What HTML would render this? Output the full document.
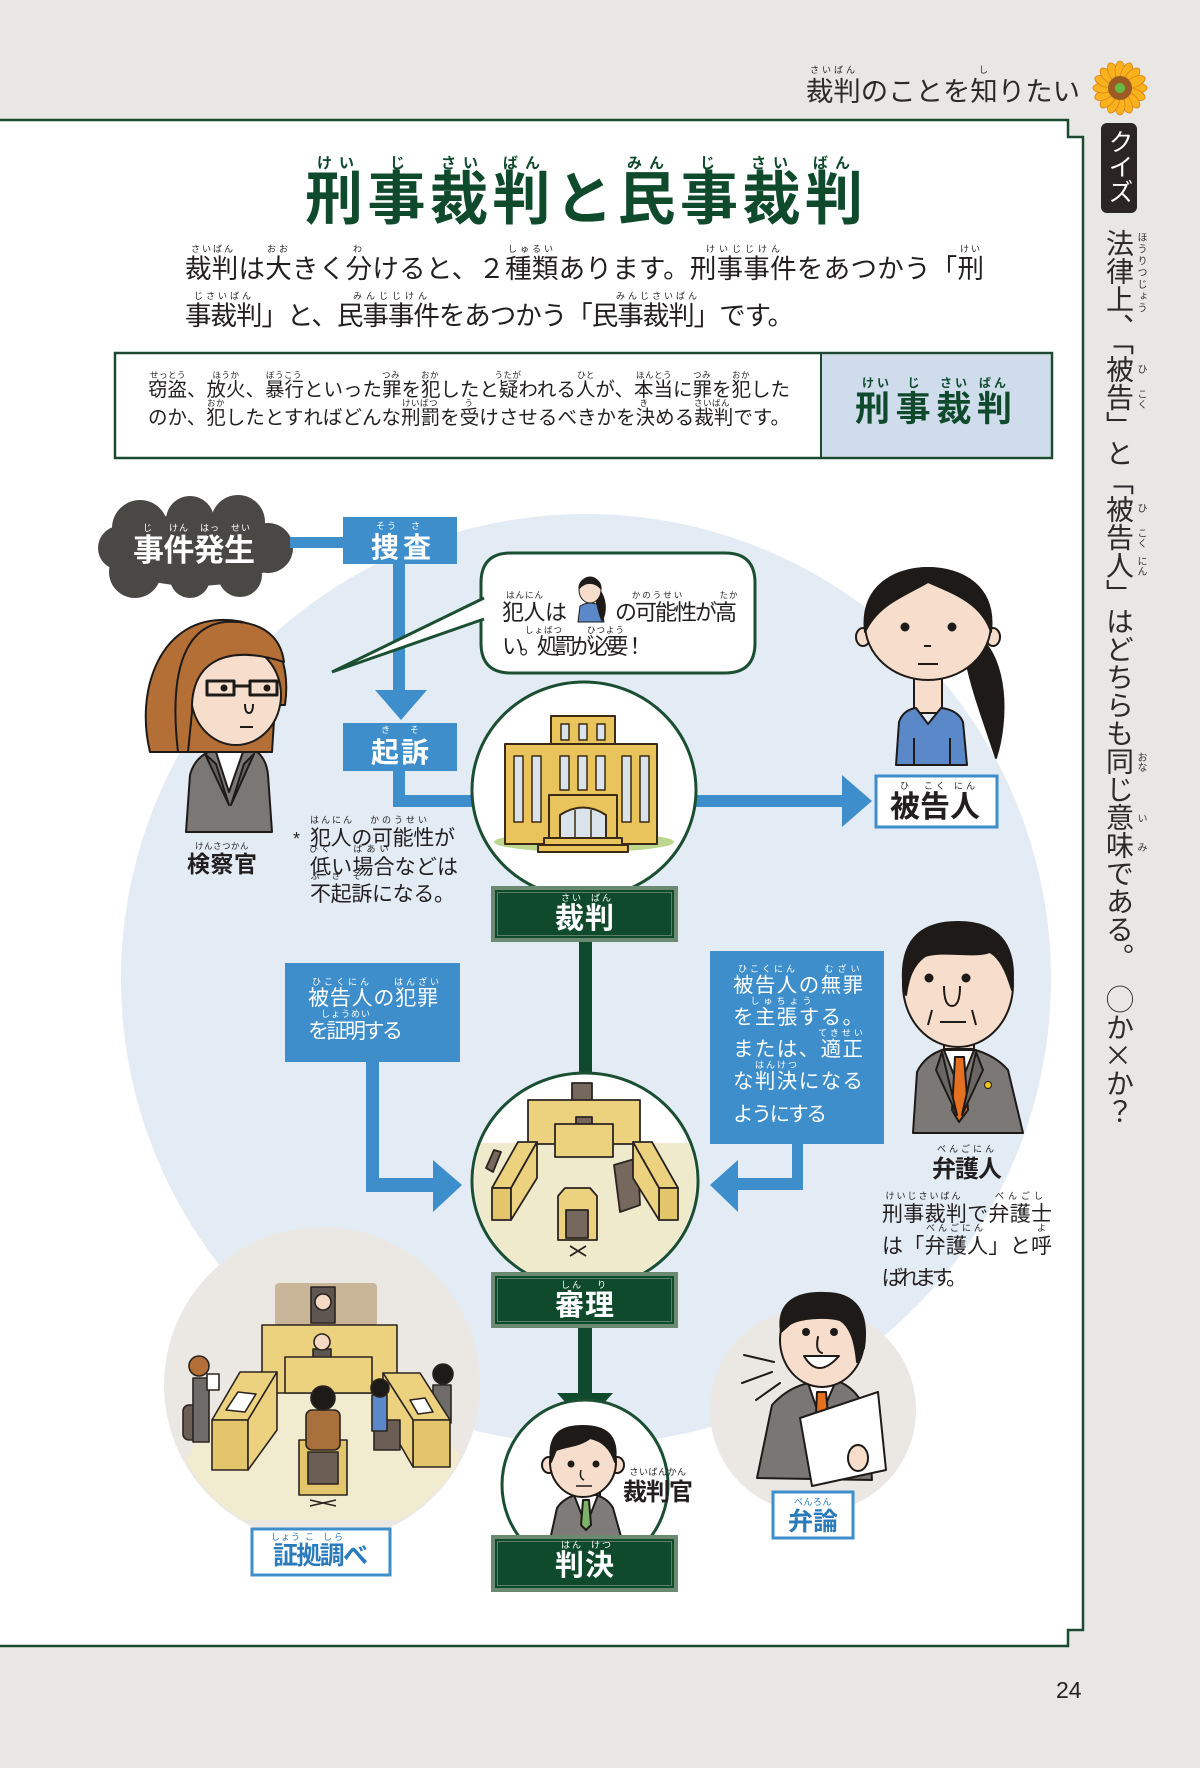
<!DOCTYPE html>
<html><head><meta charset="utf-8">
<style>
html,body{margin:0;padding:0;}
body{width:1200px;height:1768px;background:#e9e7e3;position:relative;overflow:hidden;font-family:"Liberation Sans","Noto Sans CJK JP",sans-serif;}
svg{position:absolute;left:0;top:0;}
.v{position:absolute;writing-mode:vertical-rl;white-space:nowrap;font-family:"Liberation Sans","Noto Sans CJK JP",sans-serif;}
.vr{position:absolute;writing-mode:vertical-rl;white-space:nowrap;font-size:10px;line-height:11px;color:#333;font-family:"Liberation Sans","Noto Sans CJK JP",sans-serif;}
</style></head><body>
<svg xmlns="http://www.w3.org/2000/svg" width="1200" height="1768" viewBox="0 0 1200 1768">
<style>
text{font-family:"Liberation Sans","Noto Sans CJK JP",sans-serif;fill:#231f20;}
.rb{font-size:9px;text-anchor:middle;letter-spacing:1px;}
.w{fill:#fff;}
.gr{fill:#0f4a2c;}
.bl{fill:#2a7bbb;}
.bd{font-weight:bold;}
</style>
<defs>
<clipPath id="c1"><ellipse cx="585" cy="1181" rx="111" ry="106"/></clipPath>
<clipPath id="c2"><ellipse cx="585" cy="1485" rx="81" ry="83"/></clipPath>
<clipPath id="c3"><circle cx="322" cy="1385" r="156"/></clipPath>
</defs>

<!-- header -->
<text x="806" y="101" font-size="27" textLength="274" lengthAdjust="spacingAndGlyphs" style="fill:#2a2a2a">裁判のことを知りたい</text>
<text class="rb" x="834" y="73" style="letter-spacing:3px">さいばん</text>
<text class="rb" x="984" y="73">し</text>
<g transform="translate(1120,88)" fill="#f7b21c" stroke="#e0801a" stroke-width="0.8">
<ellipse cx="17" cy="0" rx="10" ry="5" transform="rotate(0)"/>
<ellipse cx="17" cy="0" rx="10" ry="5" transform="rotate(22.5)"/>
<ellipse cx="17" cy="0" rx="10" ry="5" transform="rotate(45)"/>
<ellipse cx="17" cy="0" rx="10" ry="5" transform="rotate(67.5)"/>
<ellipse cx="17" cy="0" rx="10" ry="5" transform="rotate(90)"/>
<ellipse cx="17" cy="0" rx="10" ry="5" transform="rotate(112.5)"/>
<ellipse cx="17" cy="0" rx="10" ry="5" transform="rotate(135)"/>
<ellipse cx="17" cy="0" rx="10" ry="5" transform="rotate(157.5)"/>
<ellipse cx="17" cy="0" rx="10" ry="5" transform="rotate(180)"/>
<ellipse cx="17" cy="0" rx="10" ry="5" transform="rotate(202.5)"/>
<ellipse cx="17" cy="0" rx="10" ry="5" transform="rotate(225)"/>
<ellipse cx="17" cy="0" rx="10" ry="5" transform="rotate(247.5)"/>
<ellipse cx="17" cy="0" rx="10" ry="5" transform="rotate(270)"/>
<ellipse cx="17" cy="0" rx="10" ry="5" transform="rotate(292.5)"/>
<ellipse cx="17" cy="0" rx="10" ry="5" transform="rotate(315)"/>
<ellipse cx="17" cy="0" rx="10" ry="5" transform="rotate(337.5)"/>
<circle r="12" fill="#9c5b23" stroke="none"/>
<circle r="5" fill="#67bd45" stroke="none"/>
</g>

<!-- quiz tab -->
<rect x="1101" y="123" width="36" height="90" rx="6" fill="#2b2625"/>

<!-- panel -->
<path d="M-5,120 H1068 V137 H1083 V1630 H1068 V1646 H-5 Z" fill="#fff" stroke="#1b4a30" stroke-width="2.5"/>

<!-- title -->
<text x="305" y="219" font-size="58" class="bd gr" textLength="558" lengthAdjust="spacing">刑事裁判と民事裁判</text>
<g class="bd" style="font-size:15px;text-anchor:middle;letter-spacing:7px;">
<text class="gr" x="339" y="168">けい</text>
<text class="gr" x="401" y="168">じ</text>
<text class="gr" x="463" y="168">さい</text>
<text class="gr" x="525" y="168">ばん</text>
<text class="gr" x="649" y="168">みん</text>
<text class="gr" x="711" y="168">じ</text>
<text class="gr" x="773" y="168">さい</text>
<text class="gr" x="835" y="168">ばん</text>
</g>

<!-- paragraph -->
<text x="185" y="278" font-size="26.5" textLength="799" lengthAdjust="spacing">裁判は大きく分けると、２種類あります。刑事事件をあつかう「刑</text>
<text x="185" y="325" font-size="26.5" textLength="609" lengthAdjust="spacing">事裁判」と、民事事件をあつかう「民事裁判」です。</text>
<text class="rb" x="213" y="252" style="letter-spacing:2px">さいばん</text>
<text class="rb" x="279" y="252" style="letter-spacing:3px">おお</text>
<text class="rb" x="358" y="252">わ</text>
<text class="rb" x="532" y="252" style="letter-spacing:3px">しゅるい</text>
<text class="rb" x="745" y="252" style="letter-spacing:4px">けいじじけん</text>
<text class="rb" x="971" y="252" style="letter-spacing:2px">けい</text>
<text class="rb" x="224" y="299" style="letter-spacing:3px">じさいばん</text>
<text class="rb" x="392" y="299" style="letter-spacing:4px">みんじじけん</text>
<text class="rb" x="658" y="299" style="letter-spacing:3px">みんじさいばん</text>

<!-- definition box -->
<rect x="115" y="353" width="937" height="105" fill="#fff" stroke="#1b4a30" stroke-width="2.5"/>
<rect x="821" y="354.5" width="229.5" height="102" fill="#cfdcec"/>
<line x1="821" y1="353" x2="821" y2="458" stroke="#1b4a30" stroke-width="2"/>
<text x="148" y="396" font-size="19.5" textLength="642" lengthAdjust="spacing">窃盗、放火、暴行といった罪を犯したと疑われる人が、本当に罪を犯した</text>
<text x="148" y="424" font-size="19.5" textLength="642" lengthAdjust="spacing">のか、犯したとすればどんな刑罰を受けさせるべきかを決める裁判です。</text>
<g style="font-size:8.5px;text-anchor:middle;letter-spacing:0.5px">
<text x="168" y="378">せっとう</text><text x="226" y="378">ほうか</text><text x="284" y="378">ぼうこう</text>
<text x="391" y="378">つみ</text><text x="430" y="378">おか</text><text x="508" y="378">うたが</text>
<text x="586" y="378">ひと</text><text x="654" y="378">ほんとう</text><text x="702" y="378">つみ</text><text x="741" y="378">おか</text>
<text x="216" y="406">おか</text><text x="420" y="406">けいばつ</text><text x="469" y="406">う</text>
<text x="644" y="406">き</text><text x="712" y="406">さいばん</text>
</g>
<text x="855" y="421" font-size="35" class="bd gr" textLength="157" lengthAdjust="spacing">刑事裁判</text>
<g class="bd" style="font-size:12px;text-anchor:middle;letter-spacing:3px">
<text class="gr" x="877" y="387">けい</text><text class="gr" x="915" y="387">じ</text>
<text class="gr" x="955" y="387">さい</text><text class="gr" x="994" y="387">ばん</text>
</g>

<!-- big light blue circle -->
<circle cx="586" cy="979" r="465" fill="#e3ebf5"/>
<!-- grey circles -->
<circle cx="322" cy="1385" r="158" fill="#ebe8e4"/>
<circle cx="813" cy="1410" r="103" fill="#ebe8e4"/>

<!-- cloud -->
<g fill="#4a4845">
<ellipse cx="195" cy="550" rx="88" ry="36"/>
<circle cx="140" cy="528" r="28"/><circle cx="190" cy="520" r="24"/><circle cx="238" cy="522" r="27"/>
<circle cx="268" cy="548" r="25"/><circle cx="240" cy="575" r="22"/><circle cx="190" cy="578" r="20"/>
<circle cx="135" cy="572" r="26"/><circle cx="120" cy="548" r="22"/>
</g>
<text x="133" y="561" font-size="31" class="bd w" textLength="122" lengthAdjust="spacing">事件発生</text>
<text class="rb w" x="148" y="531">じ</text><text class="rb w" x="179" y="531">けん</text>
<text class="rb w" x="210" y="531">はっ</text><text class="rb w" x="241" y="531">せい</text>

<!-- blue connectors -->
<g fill="#3d8ecb">
<rect x="290" y="537" width="55" height="11"/>
<rect x="343" y="517" width="114" height="47"/>
<rect x="393" y="564" width="12" height="128"/>
<polygon points="375,690 427,690 401,720"/>
<rect x="343" y="723" width="114" height="48"/>
<rect x="393" y="771" width="12" height="36"/>
<rect x="393" y="795" width="110" height="12"/>
<rect x="690" y="795" width="155" height="12"/>
<polygon points="842,775 872,801 842,827"/>
<rect x="285" y="963" width="175" height="99"/>
<rect x="366" y="1062" width="13" height="130"/>
<rect x="366" y="1178" width="70" height="14"/>
<polygon points="433,1160 462,1185 433,1212"/>
<rect x="710" y="951" width="174" height="193"/>
<rect x="792" y="1144" width="11" height="46"/>
<rect x="735" y="1178" width="68" height="12"/>
<polygon points="738,1160 710,1185 738,1212"/>
</g>
<text x="371" y="557" font-size="28" class="bd w" textLength="60" lengthAdjust="spacing">捜査</text>
<text class="rb w" x="387" y="529" style="letter-spacing:2px">そう</text><text class="rb w" x="416" y="529">さ</text>
<text x="371" y="762" font-size="28" class="bd w" textLength="58" lengthAdjust="spacing">起訴</text>
<text class="rb w" x="386" y="733">き</text><text class="rb w" x="415" y="733">そ</text>

<!-- blue box texts -->
<text x="308" y="1005" font-size="21" class="w" textLength="130" lengthAdjust="spacing">被告人の犯罪</text>
<text x="308" y="1038" font-size="21" class="w" textLength="95" lengthAdjust="spacing">を証明する</text>
<text class="rb w" x="342" y="985" style="letter-spacing:3px">ひこくにん</text>
<text class="rb w" x="418" y="985" style="letter-spacing:3px">はんざい</text>
<text class="rb w" x="346" y="1017" style="letter-spacing:1px">しょうめい</text>

<text x="733" y="992" font-size="20.5" class="w" textLength="130" lengthAdjust="spacing">被告人の無罪</text>
<text x="733" y="1024" font-size="20.5" class="w" textLength="130" lengthAdjust="spacing">を主張する。</text>
<text x="733" y="1056" font-size="20.5" class="w" textLength="130" lengthAdjust="spacing">または、適正</text>
<text x="733" y="1088" font-size="20.5" class="w" textLength="130" lengthAdjust="spacing">な判決になる</text>
<text x="733" y="1121" font-size="20.5" class="w" textLength="94" lengthAdjust="spacing">ようにする</text>
<text class="rb w" x="768" y="972" style="letter-spacing:3px">ひこくにん</text>
<text class="rb w" x="844" y="972" style="letter-spacing:4px">むざい</text>
<text class="rb w" x="783" y="1004" style="letter-spacing:4px">しゅちょう</text>
<text class="rb w" x="842" y="1036" style="letter-spacing:3px">てきせい</text>
<text class="rb w" x="777" y="1068" style="letter-spacing:2px">はんけつ</text>

<!-- speech bubble -->
<path d="M511,553 H725 Q755,553 755,583 V643 Q755,673 725,673 H511 Q481,673 481,643 V583 Q481,553 511,553 Z" fill="#fff" stroke="#1b4f31" stroke-width="3"/>
<path d="M484,598 L332,672 L484,619" fill="#fff" stroke="#1b4f31" stroke-width="3"/>
<text x="502" y="620" font-size="22" textLength="65" lengthAdjust="spacing">犯人は</text>
<text x="615" y="620" font-size="22" textLength="122" lengthAdjust="spacing">の可能性が高</text>
<text x="502" y="654" font-size="22" textLength="144" lengthAdjust="spacing">い。処罰が必要！</text>
<text class="rb" x="525" y="598" style="font-size:8.5px">はんにん</text>
<text class="rb" x="658" y="598" style="font-size:8.5px;letter-spacing:2px">かのうせい</text>
<text class="rb" x="729" y="598" style="font-size:8.5px">たか</text>
<text class="rb" x="544" y="633" style="font-size:8.5px">しょばつ</text>
<text class="rb" x="606" y="633" style="font-size:8.5px">ひつよう</text>
<g stroke="#1e1a18" stroke-width="1">
<path d="M578,622 L580,606 Q590,600 601,606 L604,622 Z" fill="#5b88c8"/>
<path d="M598,588 C607,598 607,612 602,621 C598,612 596,600 595,594 Z" fill="#1e1a18"/>
<ellipse cx="590" cy="590" rx="11" ry="13" fill="#f7ddcc"/>
<path d="M579,589 C578,574 602,574 601,589 C595,582 585,581 579,589 Z" fill="#1e1a18"/>
</g>

<!-- prosecutor -->
<g stroke="#1e1a18" stroke-width="2" stroke-linejoin="round">
<path d="M186,832 L190,775 Q196,752 222,748 L250,748 Q266,754 268,775 L272,832 Z" fill="#7b7775"/>
<rect x="220" y="733" width="20" height="18" fill="#f7ddcc"/>
<path d="M215,749 L229,792 L244,749 Z" fill="#fff"/>
<path d="M205,754 L229,805 L216,764 Z" fill="#66625f"/>
<path d="M254,754 L231,805 L244,764 Z" fill="#66625f"/>
<path d="M150,752 C135,690 160,622 220,620 C270,618 292,655 285,705 L275,705 L272,752 Z" fill="#b46f37"/>
<ellipse cx="236" cy="695" rx="45" ry="50" fill="#f7ddcc"/>
<path d="M192,712 C190,660 228,644 284,662 C280,632 256,620 225,622 C188,626 168,665 178,752 L188,752 Z" fill="#b46f37"/>
<rect x="207" y="681" width="27" height="14" fill="none" stroke-width="3"/>
<rect x="250" y="681" width="27" height="14" fill="none" stroke-width="3"/>
<line x1="234" y1="686" x2="250" y2="686" stroke-width="3"/>
<circle cx="224" cy="688" r="2.5" fill="#1e1a18"/><circle cx="267" cy="688" r="2.5" fill="#1e1a18"/>
<path d="M245,704 q0,9 4,9 q4,0 4,-9" fill="none"/>
<line x1="240" y1="727" x2="253" y2="727"/>
</g>
<text x="187" y="872" font-size="23" class="bd" textLength="70" lengthAdjust="spacing">検察官</text>
<text class="rb" x="222" y="849" style="font-size:8.5px;letter-spacing:0.5px">けんさつかん</text>
<text x="293" y="845" font-size="18">*</text>
<text x="310" y="845" font-size="21" textLength="145" lengthAdjust="spacing">犯人の可能性が</text>
<text x="310" y="874" font-size="21" textLength="148" lengthAdjust="spacing">低い場合などは</text>
<text x="310" y="901" font-size="21" textLength="145" lengthAdjust="spacing">不起訴になる。</text>
<text class="rb" x="332" y="823" style="letter-spacing:2px">はんにん</text>
<text class="rb" x="400" y="823" style="letter-spacing:3px">かのうせい</text>
<text class="rb" x="321" y="852" style="letter-spacing:3px">ひく</text>
<text class="rb" x="373" y="852" style="letter-spacing:4px">ばあい</text>
<text class="rb" x="342" y="879" style="letter-spacing:12px">ふきそ</text>

<!-- building circle -->
<ellipse cx="584" cy="790" rx="112" ry="108" fill="#fff" stroke="#1b4f31" stroke-width="3"/>
<ellipse cx="584" cy="842" rx="90" ry="10" fill="#bcd68e"/>
<g stroke="#3b2a14" stroke-width="2" stroke-linejoin="round">
<rect x="551" y="716" width="64" height="30" fill="#e9c35b"/>
<rect x="505" y="744" width="152" height="100" fill="#e9c35b"/>
<g fill="#dbe3ea" stroke-width="1.5">
<rect x="561" y="724" width="8" height="16"/><rect x="579" y="724" width="8" height="16"/><rect x="597" y="724" width="8" height="16"/>
<rect x="514" y="756" width="9" height="66"/><rect x="532" y="756" width="9" height="66"/>
<rect x="560" y="756" width="9" height="34"/><rect x="578" y="756" width="9" height="34"/><rect x="596" y="756" width="9" height="34"/>
<rect x="622" y="756" width="9" height="66"/><rect x="640" y="756" width="9" height="66"/>
</g>
<rect x="549" y="795" width="68" height="48" fill="#e9c35b"/>
<path d="M560,843 V815 Q583,800 606,815 V843 Z" fill="#dbe3ea"/>
<line x1="575" y1="810" x2="575" y2="843" stroke-width="1.5"/><line x1="591" y1="810" x2="591" y2="843" stroke-width="1.5"/>
<rect x="544" y="838" width="78" height="7" fill="#e9c35b"/>
<rect x="538" y="845" width="90" height="7" fill="#e9c35b"/>
</g>

<!-- defendant woman -->
<g stroke="#1e1a18" stroke-width="2" stroke-linejoin="round">
<rect x="914" y="675" width="28" height="38" fill="#f7ddcc"/>
<path d="M896,765 L899,722 Q903,710 916,708 L928,724 L941,708 Q958,710 963,722 L967,765 Z" fill="#5b88c8"/>
<line x1="914" y1="738" x2="914" y2="765"/><line x1="950" y1="738" x2="950" y2="765"/>
<path d="M978,636 C1008,660 1008,720 996,758 C984,722 972,690 966,660 Z" fill="#1e1a18"/>
<ellipse cx="863" cy="637" rx="7" ry="9" fill="#f7ddcc"/>
<ellipse cx="993" cy="637" rx="7" ry="9" fill="#f7ddcc"/>
<ellipse cx="928" cy="624" rx="63" ry="56" fill="#f7ddcc"/>
<path d="M865,632 C860,586 895,568 928,568 C962,568 996,586 991,632 C982,604 956,594 928,582 C904,596 878,604 865,632 Z" fill="#1e1a18"/>
<circle cx="905" cy="627" r="3.5" fill="#1e1a18"/><circle cx="952" cy="627" r="3.5" fill="#1e1a18"/>
<line x1="924" y1="646" x2="931" y2="646"/>
<line x1="918" y1="664" x2="938" y2="664"/>
</g>
<rect x="876" y="776" width="121" height="51" fill="#fff" stroke="#3d8ecb" stroke-width="3"/>
<text x="890" y="817" font-size="30" class="bd" textLength="90" lengthAdjust="spacing">被告人</text>
<text class="rb" x="905" y="789">ひ</text><text class="rb" x="936" y="789" style="letter-spacing:3px">こく</text><text class="rb" x="966" y="789" style="letter-spacing:3px">にん</text>

<!-- green connectors -->
<g fill="#0f4a2c">
<rect x="579" y="942" width="13" height="133"/>
<rect x="578" y="1328" width="14" height="70"/>
<polygon points="557,1393 613,1393 585,1424"/>
</g>

<!-- courtroom circle -->
<ellipse cx="585" cy="1181" rx="113" ry="108" fill="#fff" stroke="#1b4f31" stroke-width="3"/>
<g clip-path="url(#c1)" stroke="#2a2420" stroke-width="1.8" stroke-linejoin="round">
<rect x="470" y="1143" width="232" height="150" fill="#f0eacd" stroke="none"/>
<rect x="572" y="1083" width="20" height="18" fill="#76685c"/>
<rect x="528" y="1100" width="112" height="44" fill="#ecd27e"/>
<rect x="576" y="1117" width="16" height="7" fill="#76685c"/>
<rect x="555" y="1124" width="58" height="33" fill="#ecd27e"/>
<polygon points="486,1168 494,1150 501,1152 493,1172" fill="#76685c"/>
<polygon points="492,1188 518,1142 537,1142 511,1188" fill="#ecd27e"/>
<polygon points="492,1188 511,1188 511,1220 492,1220" fill="#e3c66c"/>
<polygon points="511,1188 537,1142 537,1178 511,1220" fill="#ecd27e"/>
<polygon points="614,1165 638,1158 640,1205 620,1212" fill="#76685c"/>
<polygon points="678,1188 652,1142 633,1142 659,1188" fill="#ecd27e"/>
<polygon points="678,1188 659,1188 659,1220 678,1220" fill="#e3c66c"/>
<polygon points="659,1188 633,1142 633,1178 659,1220" fill="#ecd27e"/>
<polygon points="558,1196 565,1188 590,1188 597,1196 597,1240 558,1240" fill="#ecd27e"/>
<rect x="566" y="1210" width="22" height="28" fill="#76685c"/>
<path d="M570,1246 L586,1256 M586,1246 L570,1256" fill="none"/>
</g>

<!-- judge circle -->
<ellipse cx="585" cy="1485" rx="83" ry="85" fill="#fff" stroke="#1b4f31" stroke-width="3"/>
<g clip-path="url(#c2)" stroke="#1e1a18" stroke-width="2" stroke-linejoin="round">
<rect x="572" y="1484" width="28" height="14" fill="#f7ddcc"/>
<path d="M550,1540 L557,1508 Q564,1497 580,1494 L592,1494 Q607,1497 613,1508 L622,1540 Z" fill="#7f7b78"/>
<path d="M574,1495 L586,1526 L598,1495 Z" fill="#fff"/>
<path d="M583,1500 L589,1500 L591,1525 L586,1530 L581,1525 Z" fill="#7cb36a"/>
<ellipse cx="549" cy="1465" rx="7" ry="8" fill="#f7ddcc"/>
<ellipse cx="617" cy="1465" rx="7" ry="8" fill="#f7ddcc"/>
<ellipse cx="583" cy="1462" rx="33" ry="35" fill="#f7ddcc"/>
<path d="M551,1462 C547,1430 566,1426 583,1426 C604,1426 619,1434 615,1462 C610,1446 600,1440 590,1438 C580,1446 566,1446 556,1450 Z" fill="#1e1a18"/>
<circle cx="571" cy="1464" r="2.5" fill="#1e1a18"/><circle cx="596" cy="1464" r="2.5" fill="#1e1a18"/>
<path d="M581,1470 q-2,8 3,10" fill="none" stroke-width="1.5"/>
<line x1="576" y1="1486" x2="592" y2="1486" stroke-width="1.5"/>
</g>
<text x="623" y="1500" font-size="24" class="bd" textLength="70" lengthAdjust="spacing">裁判官</text>
<text class="rb" x="658" y="1475" style="letter-spacing:0.5px">さいばんかん</text>

<!-- labels -->
<g>
<rect x="491" y="886" width="187" height="56" fill="#6b8a72"/>
<rect x="495" y="890" width="179" height="48" fill="#0f4a2c"/>
<rect x="497.5" y="892.5" width="174" height="43" fill="none" stroke="#5f7f68" stroke-width="1"/>
<rect x="491" y="1272" width="187" height="56" fill="#6b8a72"/>
<rect x="495" y="1276" width="179" height="48" fill="#0f4a2c"/>
<rect x="497.5" y="1278.5" width="174" height="43" fill="none" stroke="#5f7f68" stroke-width="1"/>
<rect x="491" y="1535" width="187" height="57" fill="#6b8a72"/>
<rect x="495" y="1539" width="179" height="49" fill="#0f4a2c"/>
<rect x="497.5" y="1541.5" width="174" height="44" fill="none" stroke="#5f7f68" stroke-width="1"/>
</g>
<text x="555" y="928" font-size="29" class="bd w" textLength="59" lengthAdjust="spacing">裁判</text>
<text class="rb w" x="572" y="901" style="letter-spacing:2px">さい</text><text class="rb w" x="602" y="901" style="letter-spacing:2px">ばん</text>
<text x="555" y="1315" font-size="29" class="bd w" textLength="59" lengthAdjust="spacing">審理</text>
<text class="rb w" x="572" y="1288" style="letter-spacing:2px">しん</text><text class="rb w" x="602" y="1288">り</text>
<text x="555" y="1575" font-size="29" class="bd w" textLength="59" lengthAdjust="spacing">判決</text>
<text class="rb w" x="572" y="1548" style="letter-spacing:2px">はん</text><text class="rb w" x="602" y="1548" style="letter-spacing:2px">けつ</text>

<!-- lawyer -->
<g stroke="#1e1a18" stroke-width="2" stroke-linejoin="round">
<rect x="944" y="1032" width="30" height="22" fill="#f7ddcc"/>
<path d="M913,1133 L917,1072 Q925,1055 945,1049 L972,1049 Q995,1055 1008,1070 L1023,1133 Z" fill="#7c7875"/>
<path d="M944,1050 L959,1088 L974,1050 Z" fill="#fff"/>
<path d="M955,1057 L964,1057 L968,1110 L959,1122 L952,1110 Z" fill="#e5701f"/>
<path d="M942,1052 L957,1115 L936,1070 Z" fill="#6a6663"/>
<path d="M976,1052 L962,1115 L983,1070 Z" fill="#6a6663"/>
<circle cx="988" cy="1085" r="3.5" fill="#f0c419" stroke-width="1"/>
<ellipse cx="958" cy="985" rx="55" ry="62" fill="#f7ddcc"/>
<path d="M904,992 C896,932 930,922 958,922 C996,922 1018,942 1012,990 C1006,970 1000,958 990,952 C975,958 945,950 925,956 C912,965 908,980 906,995 Z" fill="#1e1a18"/>
<circle cx="929" cy="978" r="3.5" fill="#1e1a18"/><circle cx="966" cy="978" r="3.5" fill="#1e1a18"/>
<path d="M944,986 q0,20 8,20 q8,0 8,-20" fill="none"/>
<line x1="940" y1="1022" x2="966" y2="1022"/>
<line x1="932" y1="1010" x2="928" y2="1025"/><line x1="972" y1="1010" x2="976" y2="1025"/>
</g>
<text x="932" y="1177" font-size="24" class="bd" textLength="70" lengthAdjust="spacing">弁護人</text>
<text class="rb" x="967" y="1152" style="letter-spacing:3px">べんごにん</text>
<text x="882" y="1221" font-size="21" textLength="170" lengthAdjust="spacing">刑事裁判で弁護士</text>
<text x="882" y="1253" font-size="21" textLength="170" lengthAdjust="spacing">は「弁護人」と呼</text>
<text x="882" y="1285" font-size="21" textLength="85" lengthAdjust="spacing">ばれます。</text>
<text class="rb" x="924" y="1199" style="letter-spacing:2px">けいじさいばん</text>
<text class="rb" x="1021" y="1199" style="letter-spacing:4px">べんごし</text>
<text class="rb" x="956" y="1231" style="letter-spacing:3px">べんごにん</text>
<text class="rb" x="1042" y="1231">よ</text>

<!-- evidence scene -->
<g clip-path="url(#c3)" stroke="#2a2420" stroke-width="1.6" stroke-linejoin="round">
<path d="M180,1470 L230,1390 L415,1390 L470,1470 L420,1520 L230,1520 Z" fill="#f1ebd0" stroke="none"/>
<rect x="275" y="1283" width="102" height="44" rx="4" fill="#c9b699" stroke="none"/>
<rect x="311" y="1287" width="24" height="36" fill="#5e5650"/>
<circle cx="323" cy="1302" r="8" fill="#f4d9c4"/>
<rect x="262" y="1325" width="135" height="68" fill="#ecd27e"/>
<rect x="313" y="1349" width="18" height="9" fill="#5e5650"/>
<circle cx="322" cy="1342" r="8" fill="#f4d9c4"/>
<rect x="285" y="1357" width="87" height="36" fill="#ecd27e"/>
<rect x="183" y="1405" width="22" height="35" rx="6" fill="#6b5f55"/>
<rect x="193" y="1378" width="16" height="64" fill="#6f6b69"/>
<circle cx="199" cy="1366" r="10" fill="#b46f37"/>
<rect x="207" y="1374" width="12" height="16" fill="#fff"/>
<polygon points="212,1420 240,1372 277,1372 248,1420" fill="#ecd27e"/>
<polygon points="212,1420 248,1420 248,1470 212,1470" fill="#e3c66c"/>
<polygon points="248,1420 277,1372 277,1430 248,1470" fill="#ecd27e"/>
<polygon points="226,1410 238,1392 256,1394 245,1412" fill="#fff"/>
<rect x="433" y="1385" width="18" height="38" fill="#6f6b69"/>
<circle cx="443" cy="1374" r="10" fill="#1e1a18"/>
<polygon points="383,1373 420,1373 450,1420 413,1420" fill="#ecd27e"/>
<polygon points="413,1420 450,1420 450,1467 413,1467" fill="#e3c66c"/>
<polygon points="383,1373 413,1420 413,1467 383,1415" fill="#ecd27e"/>
<polygon points="410,1400 425,1398 433,1412 418,1414" fill="#fff"/>
<rect x="374" y="1420" width="26" height="30" fill="#6b5f55"/>
<rect x="372" y="1395" width="15" height="36" fill="#5b88c8"/>
<circle cx="380" cy="1388" r="9" fill="#1e1a18"/>
<rect x="299" y="1440" width="48" height="55" fill="#e3c66c"/>
<rect x="308" y="1452" width="30" height="32" fill="#6b5f55"/>
<rect x="306" y="1410" width="34" height="40" rx="6" fill="#a8703a"/>
<circle cx="323" cy="1398" r="12" fill="#1e1a18"/>
<path d="M310,1500 L336,1506 M336,1500 L310,1506" fill="none"/>
</g>
<rect x="252" y="1529" width="138" height="46" fill="#fff" stroke="#3d8ecb" stroke-width="3"/>
<text x="273" y="1564" font-size="25" class="bd bl" textLength="95" lengthAdjust="spacing">証拠調べ</text>
<text class="rb bl" x="286" y="1540" style="letter-spacing:1px">しょう</text><text class="rb bl" x="310" y="1540">こ</text><text class="rb bl" x="334" y="1540" style="letter-spacing:2px">しら</text>

<!-- speaking man -->
<g stroke="#1e1a18" stroke-width="2" stroke-linejoin="round" stroke-linecap="round">
<path d="M744,1355 L774,1362 M742,1383 L772,1372 M756,1400 L780,1383" fill="none"/>
<path d="M757,1478 L772,1405 Q790,1385 815,1382 L840,1382 Q862,1392 868,1420 L872,1480 Z" fill="#7a7673"/>
<path d="M808,1383 L820,1418 L835,1383 Z" fill="#fff"/>
<path d="M817,1392 L826,1392 L830,1438 L820,1446 L815,1436 Z" fill="#e5701f"/>
<path d="M800,1418 L878,1392 L886,1470 L812,1486 Z" fill="#fff"/>
<ellipse cx="858" cy="1458" rx="10" ry="13" fill="#f7ddcc"/>
<ellipse cx="822" cy="1340" rx="42" ry="47" fill="#f7ddcc"/>
<path d="M781,1332 C776,1300 800,1292 825,1293 C856,1293 869,1312 864,1348 L857,1362 C855,1340 850,1326 840,1320 C825,1316 800,1318 790,1324 Z" fill="#1e1a18"/>
<circle cx="806" cy="1332" r="3" fill="#1e1a18"/><circle cx="834" cy="1332" r="3" fill="#1e1a18"/>
<path d="M818,1337 q-3,14 4,16" fill="none"/>
<path d="M804,1356 Q818,1380 839,1356 Z" fill="#fff"/>
</g>
<rect x="773" y="1492" width="80" height="46" fill="#fff" stroke="#3d8ecb" stroke-width="3"/>
<text x="788" y="1530" font-size="25" class="bd bl" textLength="50" lengthAdjust="spacing">弁論</text>
<text class="rb bl" x="813" y="1505" style="letter-spacing:0.5px">べんろん</text>

<!-- page number -->
<text x="1056" y="1698" font-size="23" style="fill:#222">24</text>
</svg>

<div class="v" style="left:1106px;top:129px;font-size:25px;line-height:26px;color:#fff;">クイズ</div>
<div class="v" style="left:1104px;top:229px;font-size:28px;line-height:28px;color:#2b2b2b;">法律上、「被告」と「被告人」はどちらも同じ意味である。　◯か<span style="font-family:'Noto Sans CJK JP',sans-serif">×</span>か？</div>
<div class="vr" style="left:1135px;top:232px;letter-spacing:1.8px;">ほうりつじょう</div>
<div class="vr" style="left:1135px;top:364px;">ひ</div>
<div class="vr" style="left:1135px;top:389px;">こく</div>
<div class="vr" style="left:1135px;top:503px;">ひ</div>
<div class="vr" style="left:1135px;top:528px;">こく</div>
<div class="vr" style="left:1135px;top:556px;">にん</div>
<div class="vr" style="left:1135px;top:752px;">おな</div>
<div class="vr" style="left:1135px;top:813px;">い</div>
<div class="vr" style="left:1135px;top:842px;">み</div>
</body></html>
